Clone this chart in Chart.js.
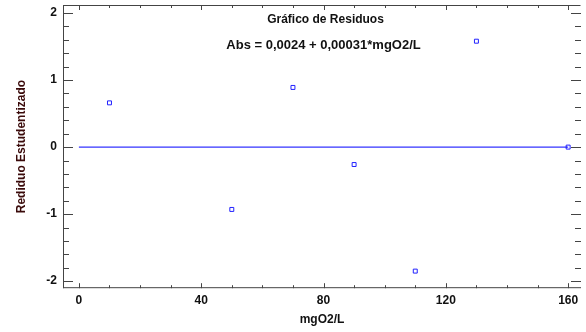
<!DOCTYPE html>
<html>
<head>
<meta charset="utf-8">
<script src="https://cdn.jsdelivr.net/npm/chart.js@4"></script>
<style>
  html, body { margin: 0; padding: 0; background: #fff; }
  #wrap { width: 586px; height: 332px; }
</style>
</head>
<body>
<div id="wrap"><canvas id="grafico"></canvas></div>
<script>
// Datos del gráfico de residuos
const concentraciones = [10, 50, 70, 90, 110, 130, 160];
const residuos = [0.66, -0.93, 0.89, -0.26, -1.85, 1.58, 0.0];
const lineaCeroX = [0, 160];
const ticksX = [0, 40, 80, 120, 160];
const ticksY = [-2, -1, 0, 1, 2];
const titulos = ['Gráfico de Residuos', 'Abs = 0,0024 + 0,00031*mgO2/L'];

// Marcas hacia adentro y marco del gráfico
const marcasInternas = {
    id: 'marcasInternas',
    afterDraw(chart) {
        const { ctx, chartArea: a, scales: { x, y } } = chart;
        ctx.save();
        ctx.strokeStyle = '#444';
        ctx.lineWidth = 1;
        ctx.beginPath();
        ctx.moveTo(a.left + 0.5, a.top + 0.5);
        ctx.lineTo(a.right - 0.5, a.top + 0.5);
        ctx.moveTo(a.left + 0.5, a.top);
        ctx.lineTo(a.left + 0.5, a.bottom);
        ctx.moveTo(a.left, a.bottom - 0.5);
        ctx.lineTo(a.right, a.bottom - 0.5);
        ctx.stroke();

        ctx.beginPath();
        for (let v = 0; v <= 160; v += 10) {
            const px = Math.round(x.getPixelForValue(v)) + 0.5;
            const largo = v % 40 === 0 ? 5 : 3;
            ctx.moveTo(px, a.bottom);
            ctx.lineTo(px, a.bottom - largo);
            ctx.moveTo(px, a.top);
            ctx.lineTo(px, a.top + largo);
        }
        for (let i = -10; i <= 10; i++) {
            const v = i / 5;
            const py = Math.round(y.getPixelForValue(v)) + 0.5;
            const largo = i % 5 === 0 ? 10 : 6;
            ctx.moveTo(a.left, py);
            ctx.lineTo(a.left + largo, py);
            ctx.moveTo(a.right, py);
            ctx.lineTo(a.right - largo, py);
        }
        ctx.stroke();

        ctx.fillStyle = '#111';
        ctx.textAlign = 'center';
        ctx.textBaseline = 'middle';
        const cx = x.getPixelForValue(80);
        ctx.font = 'bold 12px "Liberation Sans", Arial, sans-serif';
        ctx.fillText(titulos[0], cx + 2, 20);
        ctx.font = 'bold 13px "Liberation Sans", Arial, sans-serif';
        ctx.fillText(titulos[1], cx, 45);
        ctx.restore();
    }
};

new Chart(document.getElementById('grafico'), {
    type: 'scatter',
    data: {
        datasets: [
            {
                label: 'Cero',
                data: lineaCeroX.map(v => ({ x: v, y: 0 })),
                showLine: true,
                borderColor: '#0000ff',
                borderWidth: 1,
                pointRadius: 0
            },
            {
                label: 'Residuos',
                data: concentraciones.map((c, i) => ({ x: c, y: residuos[i] })),
                pointStyle: 'rect',
                pointRadius: 2.8,
                borderColor: '#2222ff',
                backgroundColor: '#ffffff',
                borderWidth: 1
            }
        ]
    },
    options: {
        responsive: true,
        maintainAspectRatio: false,
        animation: false,
        layout: { padding: { top: 5, right: 1, left: 0, bottom: 0 } },
        plugins: {
            legend: { display: false },
            tooltip: { enabled: false }
        },
        scales: {
            x: {
                type: 'linear',
                min: -5.2,
                max: 164.2,
                afterBuildTicks: s => { s.ticks = ticksX.map(v => ({ value: v })); },
                afterFit: s => { s.paddingRight = 0; s.paddingLeft = 0; },
                grid: { display: false, drawTicks: false },
                border: { display: false },
                ticks: {
                    padding: 5,
                    color: '#111',
                    font: { family: '"Liberation Sans", Arial, sans-serif', size: 12, weight: 'bold' }
                },
                title: {
                    display: true,
                    text: 'mgO2/L',
                    color: '#111',
                    padding: { top: 0, bottom: 5 },
                    font: { family: '"Liberation Sans", Arial, sans-serif', size: 12, weight: 'bold' }
                }
            },
            y: {
                type: 'linear',
                min: -2.105,
                max: 2.12,
                afterBuildTicks: s => { s.ticks = ticksY.map(v => ({ value: v })); },
                afterFit: s => { s.width = 63; s.paddingTop = 0; s.paddingBottom = 0; },
                grid: { display: false, drawTicks: false },
                border: { display: false },
                ticks: {
                    padding: 6,
                    color: '#111',
                    font: { family: '"Liberation Sans", Arial, sans-serif', size: 12, weight: 'bold' }
                },
                title: {
                    display: true,
                    text: 'Rediduo Estudentizado',
                    color: '#3a0a0a',
                    padding: { top: 14, bottom: 0 },
                    font: { family: '"Liberation Sans", Arial, sans-serif', size: 12, weight: 'bold' }
                }
            }
        }
    },
    plugins: [marcasInternas]
});
</script>
</body>
</html>
